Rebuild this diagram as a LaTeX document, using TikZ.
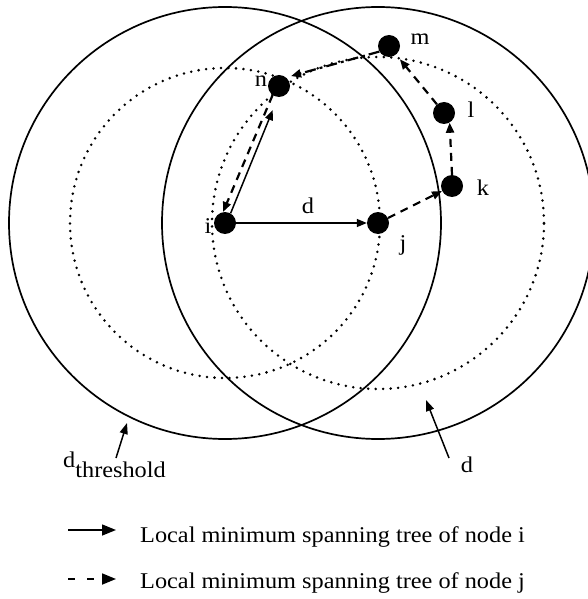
\documentclass[tikz,border=0pt]{standalone}
\usepackage{fontspec}
\setmainfont{Liberation Serif}[FakeStretch=1.08]
\usetikzlibrary{arrows.meta}
\begin{document}
\begin{tikzpicture}[x=1bp,y=-1bp,
  vert/.style={circle,fill=black,minimum size=22bp,inner sep=0pt},
  lbl/.style={inner sep=0pt,anchor=base,font=\fontsize{22.5bp}{26bp}\selectfont},
  ring/.style={line width=1.7bp},
  dotring/.style={line width=2.8bp,dash pattern=on 0bp off 7.5bp,line cap=round},
  solidarr/.style={line width=1.5bp,-{Triangle[length=10bp,width=8bp]}},
  dasharr/.style={line width=2.2bp,dash pattern=on 8bp off 6bp,-{Triangle[length=10bp,width=8bp]}},
  dotdasharr/.style={line width=2.2bp,dash pattern=on 11bp off 4bp on 3bp off 4bp,-{Triangle[length=10bp,width=8bp]}},
  pointer/.style={line width=1.5bp,-{Triangle[length=11bp,width=8bp]}},
  legsolid/.style={line width=1.5bp,-{Triangle[length=14bp,width=11bp]}},
  legdash/.style={line width=1.8bp,dash pattern=on 7bp off 12bp,-{Triangle[length=14bp,width=11bp]}}
]
\useasboundingbox (0,0) rectangle (588,599);
\fill[white] (0,0) rectangle (588,599);
% circles
\draw[ring] (225,223) circle[radius=216bp];
\draw[ring] (378,223) circle[radius=216bp];
\draw[dotring] (225,223) circle[radius=155bp];
\draw[dotring] (378,223) circle[radius=166bp];
% vertices
\node[vert] (i) at (225,223) {};
\node[vert] (j) at (378,223) {};
\node[vert] (n) at (279,86) {};
\node[vert] (m) at (389,46) {};
\node[vert] (l) at (444,113) {};
\node[vert] (k) at (452,186) {};
% labels
\node[lbl] (li) at (208,233) {i};
\node[lbl] (lj) at (403,250) {j};
\node[lbl] (ln) at (261,87) {n};
\node[lbl] (lm) at (420,45) {m};
\node[lbl] (ll) at (471,118) {l};
\node[lbl] (lk) at (483,195) {k};
\node[lbl] (ld) at (308,213) {d};
\node[lbl] (ld2) at (467,472) {d};
\node[lbl,anchor=base west] (dth) at (63,467) {d\raisebox{-10bp}{threshold}};
% connectors of node i (solid)
\draw[solidarr] (i) -- (j);
\draw[solidarr,shorten >=14bp] (i.60) -- (n.265);
% connectors of node j (dashed)
\draw[dasharr] (n.235) -- (i.100);
\draw[dasharr] (j) -- (k);
\draw[dasharr] (k.north) -- (l.-60);
\draw[dasharr,shorten >=6bp] (l) -- (m);
\draw[dotdasharr,shorten >=5bp] (m.210) -- (n.50);
% pointers to circles
\coordinate (tha) at (116,458);
\coordinate (thb) at (127,423);
\draw[pointer] (tha) -- (thb);
\coordinate (da) at (449,458);
\coordinate (db) at (426,400);
\draw[pointer] (da) -- (db);
% legend
\coordinate (la1) at (68,530);
\coordinate (lb1) at (116,530);
\draw[legsolid] (la1) -- (lb1);
\node[lbl,anchor=base west] (t1) at (140,542) {Local minimum spanning tree of node i};
\coordinate (la2) at (68,579);
\coordinate (lb2) at (116,579);
\draw[legdash] (la2) -- (lb2);
\node[lbl,anchor=base west] (t2) at (140,588) {Local minimum spanning tree of node j};
\end{tikzpicture}
\end{document}
